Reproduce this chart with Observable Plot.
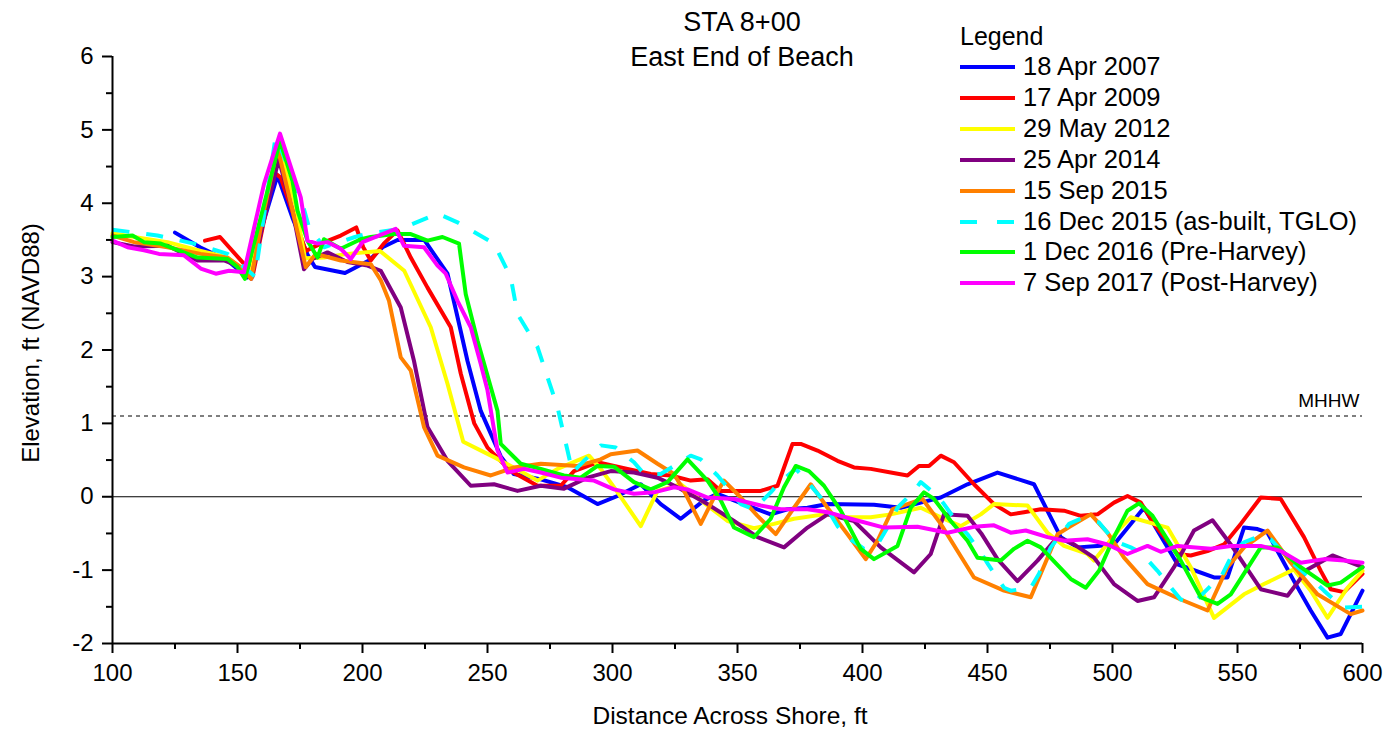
<!DOCTYPE html>
<html><head><meta charset="utf-8">
<script src="https://cdn.jsdelivr.net/npm/d3@7"></script>
<script src="https://cdn.jsdelivr.net/npm/@observablehq/plot@0.6"></script>
<style>
body{margin:0;background:#fff;font-family:"Liberation Sans",Arial,sans-serif;}
#wrap{position:relative;width:1391px;height:732px;overflow:hidden;}
.abs{position:absolute;white-space:nowrap;color:#000;line-height:1;}
</style></head><body><div id="wrap"></div>
<script>
// ---- data (distance ft, elevation ft NAVD88) ----
const seriesNames = ["18 Apr 2007","17 Apr 2009","29 May 2012","25 Apr 2014","15 Sep 2015","16 Dec 2015 (as-built, TGLO)","1 Dec 2016 (Pre-Harvey)","7 Sep 2017 (Post-Harvey)"];
const seriesColors = ["#0000ff","#ff0000","#ffff00","#800080","#ff8000","#00ffff","#00ff00","#ff00ff"];
const seriesDashed = [false,false,false,false,false,true,false,false];

const s2007 = [[125,3.6],[135,3.4],[146,3.22],[154,2.99],[160,3.7],[166,4.38],[172,3.8],[178,3.3],[181,3.13],[193,3.05],[202.6,3.22],[208,3.4],[214,3.5],[224.7,3.5],[234,3.04],[238,2.45],[242,1.85],[247.3,1.17],[255.3,0.55],[260.5,0.31],[271,0.24],[282,0.13],[294,-0.1],[302,0.01],[311.3,0.17],[319.3,-0.1],[327.3,-0.3],[336.6,-0.05],[342,0.04],[348.6,-0.05],[354,-0.12],[363.3,-0.24],[370,-0.17],[378,-0.15],[386,-0.1],[404.6,-0.11],[415.3,-0.15],[423.3,-0.08],[431.3,-0.01],[442,0.17],[454,0.33],[468.6,0.17],[479.3,-0.55],[486,-0.69],[494,-0.67],[500.6,-0.65],[512.6,-0.15],[526,-0.92],[540.6,-1.1],[546,-1.1],[552.6,-0.42],[558,-0.44],[562,-0.49],[572.6,-1.15],[579.3,-1.55],[586,-1.92],[591.3,-1.87],[600,-1.28]];
const s2009 = [[137,3.49],[143,3.54],[152.7,3.17],[156,3.0],[164.6,4.42],[167.3,4.35],[177.3,3.35],[183.3,3.45],[191.3,3.56],[197.5,3.67],[200.3,3.4],[203.3,3.22],[208.5,3.45],[214,3.63],[219.3,3.26],[226,2.85],[235.3,2.31],[239.3,1.68],[244.7,1.0],[250,0.67],[259.3,0.35],[270,0.15],[279.3,0.15],[284.6,0.35],[294,0.47],[306,0.38],[315.3,0.31],[323.3,0.29],[331.3,0.22],[338,0.24],[343.3,0.08],[359.3,0.08],[366,0.15],[372,0.72],[375.3,0.72],[382,0.63],[390,0.49],[396.6,0.4],[403.3,0.38],[411.3,0.33],[418,0.29],[422.6,0.42],[426.6,0.42],[431.3,0.56],[436.6,0.47],[444.6,0.17],[452.6,-0.1],[459.3,-0.24],[464.6,-0.21],[471.3,-0.17],[480.6,-0.19],[487.3,-0.26],[494,-0.24],[500.6,-0.08],[506,0.01],[511.3,-0.08],[516.6,-0.37],[526,-0.78],[531.3,-0.8],[538,-0.74],[544.6,-0.65],[551.3,-0.37],[559.3,-0.01],[567.3,-0.03],[576.6,-0.55],[583.3,-1.01],[587.3,-1.26],[592.6,-1.3],[600,-1.05]];
const s2012 = [[100,3.59],[108.6,3.54],[122,3.47],[135.3,3.35],[146,3.26],[152.6,3.08],[155,2.99],[160,3.8],[167,4.7],[173,4.0],[177,3.25],[184.6,3.26],[194,3.31],[207,3.35],[216.7,3.08],[227.3,2.31],[234,1.54],[240.3,0.75],[252.6,0.54],[259.3,0.42],[270,0.22],[278,0.38],[290.6,0.56],[295.3,0.38],[300.6,0.13],[311.3,-0.4],[318,0.08],[327.3,0.17],[335.3,-0.05],[346,-0.33],[356.6,-0.43],[364.6,-0.37],[372.6,-0.3],[384.6,-0.24],[394,-0.28],[403.3,-0.28],[411.3,-0.24],[423.3,-0.15],[431.3,-0.28],[439.3,-0.4],[447.3,-0.24],[452.6,-0.1],[466,-0.12],[474,-0.49],[480.6,-0.67],[490,-0.78],[492.6,-0.87],[503.3,-0.42],[507.3,-0.28],[516.6,-0.37],[522,-0.42],[531.3,-0.96],[540.6,-1.65],[552.6,-1.33],[560.6,-1.19],[572.6,-0.99],[579.3,-1.28],[586,-1.65],[594,-1.24],[600,-1.01]];
const s2014 = [[100,3.47],[108.6,3.41],[122,3.42],[134,3.22],[144.6,3.22],[150,3.15],[155.5,2.97],[160,3.7],[166.5,4.6],[172,3.9],[176.6,3.1],[180,3.24],[186,3.33],[194,3.2],[202,3.15],[207.3,3.08],[215.3,2.58],[220.6,1.85],[226,0.95],[234,0.49],[243.3,0.15],[252.6,0.17],[262,0.08],[271.3,0.15],[280.6,0.11],[290,0.26],[299.3,0.35],[308.6,0.33],[318,0.26],[326,0.13],[338,-0.1],[348.6,-0.33],[358,-0.55],[368.6,-0.69],[378,-0.42],[386,-0.24],[396.6,-0.33],[407.3,-0.69],[420.6,-1.03],[427.3,-0.78],[432.6,-0.24],[442,-0.26],[447.5,-0.5],[454,-0.85],[462,-1.15],[470,-0.87],[478,-0.55],[484.6,-0.65],[492.6,-0.83],[500.6,-1.19],[510,-1.42],[516.6,-1.37],[524.6,-0.96],[532.6,-0.46],[540,-0.32],[547.3,-0.65],[559.3,-1.26],[570,-1.35],[578,-0.99],[588,-0.8],[600,-0.96]];
const s2015 = [[100,3.56],[108.6,3.47],[122,3.4],[135.3,3.31],[146,3.26],[151.3,3.13],[155.5,2.97],[160,3.8],[166,4.76],[172,3.9],[177.3,3.13],[181.3,3.31],[191.3,3.22],[203.3,3.17],[207.3,2.95],[210.6,2.67],[215.3,1.9],[219.3,1.72],[224.6,0.95],[230,0.56],[240.6,0.4],[251.3,0.29],[260.6,0.4],[271.3,0.45],[286,0.42],[295.3,0.51],[299.3,0.58],[310,0.63],[318,0.45],[324.6,0.31],[328.6,0.08],[335.3,-0.37],[340.6,-0.01],[344.6,0.22],[351.3,-0.01],[358,-0.26],[365.3,-0.51],[372.6,-0.15],[379.3,0.17],[386,-0.15],[394,-0.51],[401.3,-0.85],[406,-0.6],[412,-0.17],[418,-0.1],[424,-0.03],[431.3,-0.37],[438,-0.74],[444.6,-1.1],[456.6,-1.28],[467.3,-1.37],[478,-0.51],[483.3,-0.4],[491.3,-0.24],[498,-0.49],[504.6,-0.83],[514,-1.19],[527.3,-1.4],[538,-1.55],[546,-0.96],[552.6,-0.69],[562,-0.46],[571.3,-0.9],[582,-1.33],[595.3,-1.6],[600,-1.55]];
const s2015ab = [[100,3.64],[118,3.56],[132.6,3.45],[146,3.31],[152.6,3.13],[157,3.0],[165.3,4.92],[176,3.99],[178.6,3.67],[184.6,3.4],[197,3.54],[202.6,3.59],[215.3,3.65],[230,3.86],[238,3.74],[252.6,3.45],[259.3,2.99],[262,2.49],[270,2.04],[278,1.22],[282,0.63],[284,0.33],[288.6,0.49],[295.3,0.7],[301.3,0.67],[308.6,0.47],[312.6,0.31],[319.3,0.31],[324.6,0.42],[331.3,0.56],[335.3,0.51],[342,0.29],[346,0.13],[351.3,-0.1],[356.6,-0.17],[363.3,0.06],[366.6,0.19],[373.3,0.38],[376.6,0.26],[383.3,-0.01],[390,-0.4],[394,-0.55],[400.6,-0.71],[406,-0.65],[410,-0.42],[414,-0.15],[420.6,0.08],[423.3,0.2],[430,0.01],[432.6,-0.1],[439.3,-0.42],[442,-0.51],[448.6,-0.83],[450.6,-0.94],[456.6,-1.24],[459.3,-1.28],[467.3,-1.24],[470.6,-1.05],[475.3,-0.69],[482.6,-0.37],[487.3,-0.3],[494.6,-0.35],[498,-0.49],[500.6,-0.6],[507.3,-0.69],[511.3,-0.76],[518,-1.01],[520.6,-1.12],[527.3,-1.4],[532.6,-1.44],[540,-1.19],[543.3,-1.1],[548.6,-0.74],[552.6,-0.62],[559.3,-0.53],[563.3,-0.58],[572,-0.9],[580.6,-1.15],[584.6,-1.28],[592,-1.51],[600,-1.5]];
const s2016 = [[100,3.54],[108,3.56],[112.6,3.47],[119.3,3.45],[134,3.26],[146,3.24],[150,3.13],[153,2.97],[160,3.9],[167,4.85],[172,4.3],[174,3.9],[178,3.49],[182,3.26],[184.6,3.51],[191.3,3.38],[199.3,3.51],[203.3,3.54],[212.6,3.58],[219.3,3.58],[226,3.49],[232,3.54],[238.6,3.45],[241.3,2.76],[246,2.13],[254,1.17],[255.3,0.72],[263.3,0.45],[271.3,0.38],[280.6,0.29],[287.3,0.26],[294,0.42],[300.6,0.41],[308.6,0.2],[315.3,0.1],[322,0.2],[330,0.51],[338,0.22],[343.3,-0.05],[348.6,-0.42],[356.6,-0.55],[363.3,-0.3],[368.6,0.13],[373.3,0.42],[378.6,0.35],[384.6,0.15],[391.3,-0.19],[399.3,-0.71],[404.6,-0.85],[414,-0.67],[419.3,-0.15],[424.6,0.06],[428.6,-0.03],[435.3,-0.33],[442,-0.6],[446,-0.83],[455.3,-0.87],[460.6,-0.71],[466,-0.6],[471.3,-0.69],[483.3,-1.12],[489.3,-1.24],[494.6,-1.01],[500.6,-0.55],[506,-0.19],[510.6,-0.09],[516,-0.26],[527.3,-0.87],[535.3,-1.37],[542,-1.46],[547.3,-1.33],[559.3,-0.69],[566,-0.69],[575.3,-0.96],[586,-1.21],[591.3,-1.17],[600,-0.96]];
const s2017 = [[100,3.49],[106,3.4],[112.6,3.36],[118.6,3.31],[128.6,3.29],[135.3,3.11],[141.3,3.04],[146.6,3.08],[152.6,3.06],[160.6,4.26],[167,4.95],[175.3,4.08],[178,3.49],[182,3.45],[186,3.47],[191.3,3.38],[195.3,3.24],[200,3.47],[213.3,3.65],[216.6,3.42],[224.6,3.4],[230,3.15],[233.3,3.04],[238,2.67],[243.3,2.31],[247.3,1.81],[250,1.45],[254,0.63],[258,0.33],[264.6,0.38],[271.3,0.33],[279.3,0.26],[292.6,0.22],[300.6,0.1],[308.6,0.04],[316.6,0.06],[324.6,0.13],[330,0.1],[338,-0.01],[348.6,-0.03],[359.3,-0.12],[367.3,-0.17],[378,-0.17],[386,-0.21],[395.3,-0.3],[408.6,-0.42],[422,-0.41],[434,-0.49],[444.6,-0.41],[452.6,-0.39],[459.3,-0.49],[465.3,-0.46],[474,-0.55],[480.6,-0.6],[490,-0.58],[498,-0.65],[506,-0.78],[514,-0.67],[519.3,-0.75],[526,-0.67],[539.3,-0.71],[547.3,-0.67],[559.3,-0.67],[567.3,-0.74],[575.3,-0.9],[584.6,-0.85],[592.6,-0.87],[600,-0.9]];
const seriesData = [s2007, s2009, s2012, s2014, s2015, s2015ab, s2016, s2017];

const xMajorTicks = [100,150,200,250,300,350,400,450,500,550,600];
const xMinorTicks = [125,175,225,275,325,375,425,475,525,575];
const yMajorTicks = [-2,-1,0,1,2,3,4,5,6];
const yMinorTicks = [-1.5,-0.5,0.5,1.5,2.5,3.5,4.5,5.5];
const mhhw = 1.1;
const titleLines = ["STA 8+00","East End of Beach"];
const xLabel = "Distance Across Shore, ft";
const yLabel = "Elevation, ft (NAVD88)";

// ---- chart ----
const lineMarks = seriesData.map((data, i) => Plot.line(data, {
  x: d => d[0], y: d => d[1],
  stroke: seriesColors[i], strokeWidth: 4,
  strokeDasharray: seriesDashed[i] ? "17,17" : null,
  strokeLinecap: seriesDashed[i] ? "butt" : "round",
  strokeLinejoin: "round"
}));

const chart = Plot.plot({
  width: 1391, height: 732,
  marginLeft: 112, marginRight: 29, marginTop: 56, marginBottom: 89,
  x: {domain: [100, 600]},
  y: {domain: [-2, 6]},
  style: {fontFamily: "'Liberation Sans', Arial, sans-serif", fontSize: "24px", color: "#000", background: "#fff", overflow: "visible"},
  marks: [
    Plot.ruleY([mhhw], {stroke: "#555", strokeDasharray: "4,4", strokeWidth: 1.4}),
    Plot.ruleY([0], {stroke: "#000", strokeWidth: 1.2}),
    ...lineMarks,
    Plot.text(["MHHW"], {x: 600, y: mhhw, text: d => d, textAnchor: "end", dx: -3, dy: -15, fontSize: 19, fill: "#000"}),
    Plot.axisX({ticks: xMajorTicks, tickSize: 10, tickPadding: 10, tickFormat: d => String(d), label: null, strokeWidth: 2, fontSize: 24}),
    Plot.axisX({ticks: xMinorTicks, tickSize: 6, tickFormat: () => "", label: null, strokeWidth: 2}),
    Plot.axisY({ticks: yMajorTicks, tickSize: 10, tickPadding: 9, tickFormat: d => String(d), label: null, strokeWidth: 2, fontSize: 24}),
    Plot.axisY({ticks: yMinorTicks, tickSize: 6, tickFormat: () => "", label: null, strokeWidth: 2}),
    Plot.ruleX([100], {stroke: "#000", strokeWidth: 2}),
    Plot.ruleY([-2], {stroke: "#000", strokeWidth: 2})
  ]
});

const wrap = document.getElementById("wrap");
wrap.appendChild(chart);
chart.style.position = "absolute";
chart.style.left = "0px";
chart.style.top = "0px";

function addText(txt, left, top, size, opts = {}) {
  const d = document.createElement("div");
  d.className = "abs";
  d.textContent = txt;
  d.style.left = left + "px";
  d.style.top = top + "px";
  d.style.fontSize = size + "px";
  d.style.transform = opts.transform || "translate(-50%,-50%)";
  wrap.appendChild(d);
  return d;
}

// title
addText(titleLines[0], 742, 22, 27);
addText(titleLines[1], 742, 57, 27);
// axis labels
addText(xLabel, 730, 716, 24.5);
addText(yLabel, 31, 343, 24, {transform: "translate(-50%,-50%) rotate(-90deg)"});

// legend
addText("Legend", 960, 36, 25, {transform: "translate(0,-50%)"});
seriesNames.forEach((name, i) => {
  const cy = 67 + i * 30.9;
  const svgNS = "http://www.w3.org/2000/svg";
  const sw = document.createElementNS(svgNS, "svg");
  sw.setAttribute("width", "58");
  sw.setAttribute("height", "10");
  sw.style.position = "absolute";
  sw.style.left = "959px";
  sw.style.top = (cy - 5) + "px";
  const ln = document.createElementNS(svgNS, "line");
  ln.setAttribute("x1", "1"); ln.setAttribute("x2", "56");
  ln.setAttribute("y1", "5"); ln.setAttribute("y2", "5");
  ln.setAttribute("stroke", seriesColors[i]);
  ln.setAttribute("stroke-width", "4");
  if (seriesDashed[i]) ln.setAttribute("stroke-dasharray", "17,20");
  sw.appendChild(ln);
  wrap.appendChild(sw);
  addText(name, 1023, cy, 25.5, {transform: "translate(0,-50%)"});
});
</script></body></html>
